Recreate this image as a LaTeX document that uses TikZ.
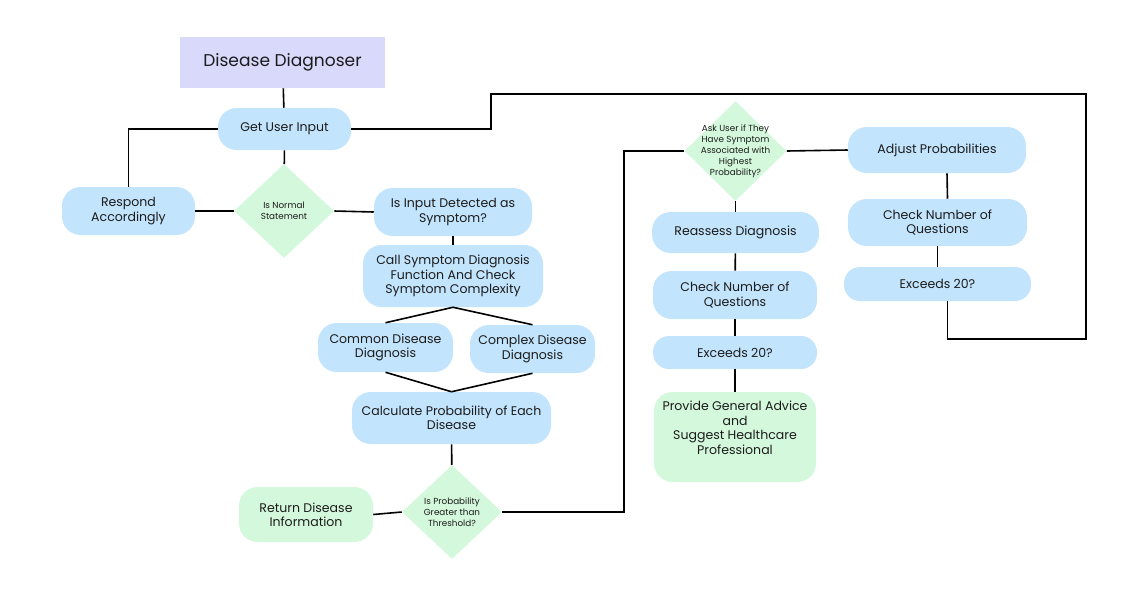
\documentclass[tikz,border=0pt]{standalone}
\usepackage{fontspec}
\setmainfont{Poppins}
\usepackage{xcolor}
\usetikzlibrary{shapes.geometric}

\definecolor{pillblue}{HTML}{C2E4FC}
\definecolor{softgreen}{HTML}{D4F8DB}
\definecolor{lavender}{HTML}{D9D9FC}
\definecolor{inkgray}{HTML}{1C1C1C}

\begin{document}
\begin{tikzpicture}[x=0.75pt, y=-0.75pt, font=\fontsize{9.4}{10.8}\selectfont, text=inkgray,
    sz/.style 2 args={minimum width=#1*0.75pt, minimum height=#2*0.75pt},
    pill/.style={fill=pillblue, rounded corners=14pt, align=center, inner sep=0pt},
    greenbox/.style={pill, fill=softgreen},
    decision/.style={diamond, fill=softgreen, inner sep=0pt},
    dtext/.style={align=center, font=\fontsize{6.6}{8.2}\selectfont, text=inkgray},
    link/.style={line width=1.2pt, black}]
                  \useasboundingbox (0,0) rectangle (1148,597);

                  % Nodes for main flow
                  \node [fill=lavender, sz={205}{51}, font=\fontsize{12.8}{15}\selectfont] (title) at (282.5,62.5) {Disease Diagnoser};
                  \node [pill, sz={133}{42}] (getinput) at (284.5,129) {Get User Input};
                  \node [pill, sz={133}{48}] (respond) at (128.5,211) {Respond\\Accordingly};
                  \node [decision, sz={100}{94}, label={[dtext]center:{Is Normal\\Statement}}] (isnormal) at (284,211) {};
                  \node [pill, sz={158}{48}] (detect) at (453,212) {Is Input Detected as\\Symptom?};
                  \node [pill, sz={180}{62}] (callsym) at (453,276) {Call Symptom Diagnosis\\Function And Check\\Symptom Complexity};
                  \node [pill, sz={135}{49}] (common) at (385.5,347.5) {Common Disease\\Diagnosis};
                  \node [pill, sz={125}{48}] (complex) at (532.5,349) {Complex Disease\\Diagnosis};
                  \node [pill, sz={199}{52}] (calcprob) at (451.5,418) {Calculate Probability of Each\\Disease};
                  \node [decision, sz={100}{94}, label={[dtext]center:{Is Probability\\Greater than\\Threshold?}}] (isprob) at (452,512) {};
                  \node [greenbox, sz={134}{55}] (retinfo) at (306,514.5) {Return Disease\\Information};

                  % Nodes for questioning loop
                  \node [decision, sz={102}{100}, label={[dtext]center:{Ask User if They\\Have Symptom\\Associated with\\Highest\\Probability?}}] (askuser) at (735.5,151) {};
                  \node [pill, sz={178}{46}] (adjust) at (937,150) {Adjust Probabilities};
                  \node [pill, sz={179}{47}] (checkright) at (937.5,222.5) {Check Number of\\Questions};
                  \node [pill, sz={187}{34}, rounded corners=12pt] (exceedright) at (937.5,284) {Exceeds 20?};
                  \node [pill, sz={167}{41}] (reassess) at (735.5,232.5) {Reassess Diagnosis};
                  \node [pill, sz={164}{48}] (checkleft) at (735,295) {Check Number of\\Questions};
                  \node [pill, sz={164}{33}, rounded corners=12pt] (exceedleft) at (735,352.5) {Exceeds 20?};
                  \node [greenbox, sz={162}{90}, text depth=14pt] (advice) at (735,437) {Provide General Advice\\and\\ Suggest Healthcare\\Professional};

                  \coordinate (bendprob) at (624,330);
                  \coordinate (loopbottom) at (1086,339);
                  \coordinate (looptop) at (491,94);

                  % Connectors
                  \draw [link] (title) -- (getinput);
                  \draw [link] (getinput.west) -| (respond.north);
                  \draw [link] (getinput) -- (isnormal);
                  \draw [link] (isnormal.west) -- (respond.east);
                  \draw [link] (isnormal.east) -- (detect.west);
                  \draw [link] (detect) -- (callsym);
                  \draw [link] (callsym.south) -- (common.north);
                  \draw [link] (callsym.south) -- (complex.north);
                  \draw [link] (common.south) -- (calcprob.north);
                  \draw [link] (complex.south) -- (calcprob.north);
                  \draw [link] (calcprob) -- (isprob);
                  \draw [link] (isprob.west) -- (retinfo.east);
                  \draw [link] (isprob.east) -| (bendprob) |- (askuser.west);
                  \draw [link] (askuser.east) -- (adjust.west);
                  \draw [link] (askuser) -- (reassess);
                  \draw [link] (reassess) -- (checkleft);
                  \draw [link] (checkleft) -- (exceedleft);
                  \draw [link] (exceedleft) -- (advice);
                  \draw [link] ([xshift=7.5pt]adjust.south) -- ([xshift=7.5pt]checkright.north);
                  \draw [link] (checkright) -- (exceedright);
                  \draw [link] ([xshift=7.5pt]exceedright.south) |- (loopbottom) |- (looptop) |- (getinput.east);
              \end{tikzpicture}
\end{document}
